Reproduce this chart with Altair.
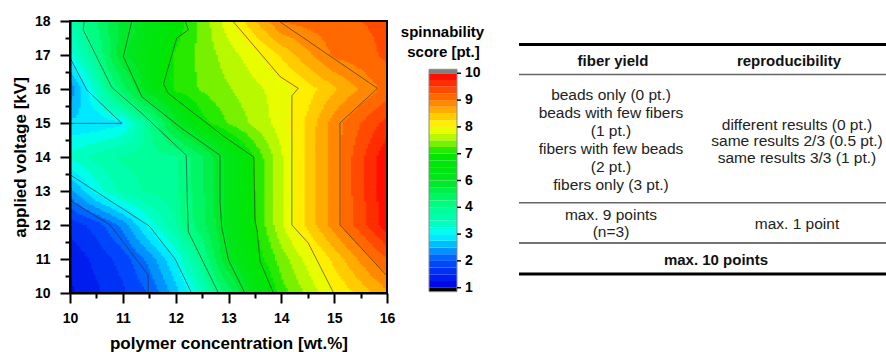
import altair as alt
import pandas as pd

# ---------------- values ----------------
CONC = [10.0, 10.5, 11.0, 11.5, 12.0, 12.5, 13.0, 13.5, 14.0, 14.5, 15.0, 15.5, 16.0]
VOLT = [10, 11, 12, 13, 14, 15, 16, 17, 18]

SCORE_10KV = [1.2, 1.45, 1.7, 2.02, 2.63, 3.39, 4.76, 6.35, 7.13, 7.57, 8.0, 8.35, 8.7]
SCORE_11KV = [1.3, 1.58, 1.86, 2.34, 3.02, 4.04, 6.0, 6.81, 7.37, 7.85, 8.33, 8.81, 9.25]
SCORE_12KV = [1.6, 1.86, 2.34, 3.1, 3.75, 4.83, 6.2, 6.97, 7.71, 8.33, 8.88, 9.39, 9.9]
SCORE_13KV = [2.4, 3.1, 3.6, 3.8, 3.92, 4.9, 6.24, 7.0, 7.71, 8.33, 8.88, 9.43, 9.95]
SCORE_14KV = [3.3, 3.6, 3.8, 3.85, 3.93, 4.94, 6.25, 7.03, 7.72, 8.33, 8.88, 9.43, 9.95]
SCORE_15KV = [2.8, 2.8, 2.95, 3.9, 5.88, 6.89, 7.27, 7.57, 7.88, 8.32, 8.88, 9.25, 9.6]
SCORE_16KV = [2.3, 3.37, 4.74, 6.41, 7.08, 7.28, 7.48, 7.68, 7.88, 8.13, 8.46, 8.79, 9.1]
SCORE_17KV = [3.1, 4.04, 5.92, 6.53, 7.04, 7.34, 7.63, 7.92, 8.29, 8.69, 9.05, 9.15, 9.3]
SCORE_18KV = [3.6, 4.51, 5.62, 6.32, 6.81, 7.34, 7.9, 8.48, 9.02, 9.1, 9.15, 9.25, 9.3]
SCORE_ROWS = [SCORE_10KV, SCORE_11KV, SCORE_12KV, SCORE_13KV, SCORE_14KV,
              SCORE_15KV, SCORE_16KV, SCORE_17KV, SCORE_18KV]

# contour lines (concentration, voltage)
CONTOUR_2 = [(10, 12.72), (10.76, 12.0), (11.48, 10.53), (11.48, 10)]
CONTOUR_3A = [(10, 13.48), (11.5, 11.97), (11.99, 11.0), (12.3, 10)]
CONTOUR_3B = [(10, 16.92), (10.32, 15.97), (10.98, 14.99), (10, 14.99)]
CONTOUR_4 = [(10.27, 18), (10.25, 17.74), (10.79, 16.05), (11.39, 15.24), (12.2, 14.05),
             (12.22, 12.74), (12.24, 11.8), (12.81, 10)]
CONTOUR_6 = [(11.17, 18), (11.01, 16.95), (11.36, 15.77), (12.1, 14.86), (12.84, 14.05),
             (12.84, 12.7), (12.87, 11.95), (13.0, 10.97), (13.31, 10)]
CONTOUR_7 = [(12.18, 18), (12.24, 17.74), (12.02, 17.5), (11.77, 16.15), (11.86, 15.87),
             (12.96, 14.55), (13.48, 14.0), (13.5, 12.15), (13.54, 11.85), (13.6, 10.92), (13.85, 10)]
CONTOUR_8 = [(13.08, 18), (13.98, 16.36), (14.32, 16.02), (14.2, 15.8), (14.2, 12.0),
             (14.51, 11.47), (14.99, 10)]
CONTOUR_9 = [(13.95, 18), (15.82, 16.02), (15.11, 15.0), (15.11, 12.0), (16.0, 10.5)]
CONTOURS = [CONTOUR_2, CONTOUR_3A, CONTOUR_3B, CONTOUR_4, CONTOUR_6, CONTOUR_7, CONTOUR_8, CONTOUR_9]

CB_LEVELS = [1, 2, 3, 4, 6, 7, 8, 9, 10]
CB_LABELS = ["1", "2", "3", "4", "6", "7", "8", "9", "10"]

X_TICKS = [10, 10.5, 11, 11.5, 12, 12.5, 13, 13.5, 14, 14.5, 15, 15.5, 16]
Y_TICKS = [10, 10.5, 11, 11.5, 12, 12.5, 13, 13.5, 14, 14.5, 15, 15.5, 16, 16.5, 17, 17.5, 18]

HEADERS = ["fiber yield", "reproducibility"]
YIELD_LINES = ["beads only (0 pt.)", "beads with few fibers", "(1 pt.)",
               "fibers with few beads", "(2 pt.)", "fibers only (3 pt.)"]
REPRO_LINES = ["different results (0 pt.)", "same results 2/3 (0.5 pt.)", "same results 3/3 (1 pt.)"]
MAX_YIELD = ["max. 9 points", "(n=3)"]
MAX_REPRO = ["max. 1 point"]
TOTAL = ["max. 10 points"]
CB_TITLE = ["spinnability", "score [pt.]"]

# ---------------- style / layout ----------------
FONT = "Liberation Sans"
# colour stops along the colour-bar position (0 = level 1 ... 8 = level 10)
RAINBOW_POS = [0, 1, 2, 2.35, 3, 4, 5, 5.5, 6, 7, 8]
RAINBOW = ["#0000e6", "#0050ff", "#00ffff", "#00ffc3", "#00ff90", "#00e61e",
           "#00e600", "#a0f500", "#ffff00", "#ff7800", "#ff0000"]
W, H = 317, 272
PAD = {"left": 70, "top": 21, "right": 886 - 70 - W, "bottom": 352 - 21 - H}
NX, NY = 150, 160  # render resolution of the filled contour

NCOL, NROW = len(CONC), len(VOLT)
X0, XSTEP = CONC[0], CONC[1] - CONC[0]
Y0, YSTEP = VOLT[0], VOLT[1] - VOLT[0]
DX = (CONC[-1] - CONC[0]) / NX
DY = (VOLT[-1] - VOLT[0]) / NY

grid = pd.DataFrame([{"key": j * NCOL + i, "v": SCORE_ROWS[j][i]}
                     for j in range(NROW) for i in range(NCOL)])


def pos_expr(L):
    n = len(L)
    e = f"{n - 2} + (datum.v - {L[n - 2]}) / {L[n - 1] - L[n - 2]}"
    for s in range(n - 3, -1, -1):
        e = f"datum.v < {L[s + 1]} ? {s} + (datum.v - {L[s]}) / {L[s + 1] - L[s]} : ({e})"
    return e


NPOS = len(CB_LEVELS) - 1
CSCALE = alt.Scale(domain=RAINBOW_POS, range=RAINBOW, interpolate="rgb")
XS = alt.Scale(domain=[CONC[0], CONC[-1]], nice=False, zero=False)
YS = alt.Scale(domain=[VOLT[0], VOLT[-1]], nice=False, zero=False)

axis_common = dict(
    tickWidth=2, tickColor="black", domainColor="black", domainWidth=2,
    labelFont=FONT, labelFontSize=14, labelFontWeight="bold", labelColor="black",
    titleFont=FONT, titleFontSize=17, titleFontWeight="bold", titleColor="black",
    grid=False, labelFlush=False, labelOverlap=False, zindex=1,
    tickSize={"condition": {"test": "datum.value % 1 === 0", "value": 10}, "value": 5},
    labelExpr="datum.value % 1 === 0 ? '' + datum.value : ''",
)
X_AX = alt.Axis(title="polymer concentration [wt.%]", values=X_TICKS,
                labelPadding=8, titlePadding=10, **axis_common)
Y_AX = alt.Axis(title="applied voltage [kV]", values=Y_TICKS,
                labelPadding=10, titlePadding=5, **axis_common)

lk = lambda key, name: dict(lookup=key, from_=alt.LookupData(grid, key="key", fields=["v"]), as_=[name])

heat = (
    alt.Chart(alt.sequence(0, NX * NY, as_="k"))
    .transform_calculate(i=f"datum.k % {NX}")
    .transform_calculate(j=f"floor(datum.k / {NX})")
    .transform_calculate(conc=f"{X0} + datum.i * {DX}")
    .transform_calculate(volt=f"{Y0} + datum.j * {DY}")
    .transform_calculate(conc2=f"datum.conc + {DX * 1.6}")
    .transform_calculate(volt2=f"datum.volt + {DY * 1.6}")
    .transform_calculate(gx=f"(datum.conc + {DX / 2} - {X0}) / {XSTEP}")
    .transform_calculate(gy=f"(datum.volt + {DY / 2} - {Y0}) / {YSTEP}")
    .transform_calculate(ci=f"min(floor(datum.gx), {NCOL - 2})")
    .transform_calculate(cj=f"min(floor(datum.gy), {NROW - 2})")
    .transform_calculate(tx="datum.gx - datum.ci")
    .transform_calculate(ty="datum.gy - datum.cj")
    .transform_calculate(k00=f"datum.cj * {NCOL} + datum.ci")
    .transform_calculate(k10="datum.k00 + 1")
    .transform_calculate(k01=f"datum.k00 + {NCOL}")
    .transform_calculate(k11=f"datum.k00 + {NCOL + 1}")
    .transform_lookup(**lk("k00", "v00"))
    .transform_lookup(**lk("k10", "v10"))
    .transform_lookup(**lk("k01", "v01"))
    .transform_lookup(**lk("k11", "v11"))
    .transform_calculate(v="(1-datum.tx)*(1-datum.ty)*datum.v00 + datum.tx*(1-datum.ty)*datum.v10"
                           " + (1-datum.tx)*datum.ty*datum.v01 + datum.tx*datum.ty*datum.v11")
    .transform_calculate(p=pos_expr(CB_LEVELS))
    .transform_calculate(q=f"clamp((floor(datum.p * 4) + 0.5) / 4, 0, {NPOS})")
    .mark_rect(clip=True, strokeWidth=0)
    .encode(
        x=alt.X("conc:Q", scale=XS, axis=X_AX),
        x2="conc2:Q",
        y=alt.Y("volt:Q", scale=YS, axis=Y_AX),
        y2="volt2:Q",
        color=alt.Color("q:Q", scale=CSCALE, legend=None),
    )
)

cont_df = pd.DataFrame([{"line": n, "o": o, "conc": c, "volt": v}
                        for n, pts in enumerate(CONTOURS) for o, (c, v) in enumerate(pts)])
contours = alt.Chart(cont_df).mark_line(color="#2a2a2a", strokeWidth=1, opacity=0.6, clip=True).encode(
    x=alt.X("conc:Q", scale=XS, axis=X_AX),
    y=alt.Y("volt:Q", scale=YS, axis=Y_AX),
    detail="line:N",
    order="o:Q",
)

frame_df = pd.DataFrame([{"conc": CONC[0], "conc2": CONC[-1], "volt": VOLT[0], "volt2": VOLT[-1]}])
frame = alt.Chart(frame_df).mark_rect(filled=False, stroke="black", strokeWidth=2).encode(
    x=alt.X("conc:Q", scale=XS, axis=X_AX), x2="conc2:Q",
    y=alt.Y("volt:Q", scale=YS, axis=Y_AX), y2="volt2:Q",
)

main = alt.layer(heat, contours, frame)

# ---------------- colour bar ----------------
CB_X0, CB_X1 = 359, 387
CB_Y = alt.Scale(domain=[0, NPOS], range=[266.7, 52.3], nice=False, zero=False)

cb_bands = (
    alt.Chart(alt.sequence(0, NPOS * 4, as_="b"))
    .transform_calculate(p0="datum.b / 4", p1="(datum.b + 1) / 4", pc="(datum.b + 0.5) / 4")
    .mark_rect(strokeWidth=0)
    .encode(
        x=alt.value(CB_X0), x2=alt.value(CB_X1),
        y=alt.Y("p0:Q", scale=CB_Y, axis=None), y2="p1:Q",
        color=alt.Color("pc:Q", scale=CSCALE, legend=None),
    )
)
cb_over = alt.Chart(frame_df).mark_rect(color="#808080").encode(
    x=alt.value(CB_X0), x2=alt.value(CB_X1), y=alt.value(48.3), y2=alt.value(52.3))
cb_under = alt.Chart(frame_df).mark_rect(color="#000000").encode(
    x=alt.value(CB_X0), x2=alt.value(CB_X1), y=alt.value(266.7), y2=alt.value(270.7))
cb_border = alt.Chart(frame_df).mark_rect(filled=False, stroke="#8a8a8a", strokeWidth=1).encode(
    x=alt.value(CB_X0), x2=alt.value(CB_X1), y=alt.value(48.3), y2=alt.value(270.7))

cb_lab_df = pd.DataFrame({"p": list(range(len(CB_LABELS))), "lab": CB_LABELS})
cb_ticks = alt.Chart(cb_lab_df).mark_rule(color="black", strokeWidth=1.5).encode(
    x=alt.value(CB_X1), x2=alt.value(CB_X1 + 4),
    y=alt.Y("p:Q", scale=CB_Y, axis=None))
cb_labels = alt.Chart(cb_lab_df).mark_text(
    font=FONT, fontSize=14, fontWeight="bold", align="left", baseline="middle", color="black"
).encode(x=alt.value(CB_X1 + 8), y=alt.Y("p:Q", scale=CB_Y, axis=None), text="lab:N")

cb_bar = alt.layer(cb_bands, cb_over, cb_under, cb_border, cb_ticks, cb_labels)

cb_title_1 = alt.Chart(frame_df).mark_text(
    font=FONT, fontSize=15, fontWeight="bold", align="center", baseline="middle", color="black",
    text=CB_TITLE[0]).encode(x=alt.value(372.5), y=alt.value(11))
cb_title_2 = alt.Chart(frame_df).mark_text(
    font=FONT, fontSize=15, fontWeight="bold", align="center", baseline="middle", color="black",
    text=CB_TITLE[1]).encode(x=alt.value(373.5), y=alt.value(31))

# ---------------- table ----------------
IDS = alt.Scale(domain=[0, 1000], range=[0, 1000], nice=False, zero=False)
TX0, TX1 = 449, 816
COL_L, COL_R = 541, 727

rules_df = pd.DataFrame({
    "ty": [23.5, 53.5, 181.7, 222, 253],
    "w": [3, 1.5, 1.5, 1.5, 3],
    "c": ["#000000", "#666666", "#666666", "#444444", "#000000"],
})
rules = alt.Chart(rules_df).mark_rule().encode(
    x=alt.value(TX0), x2=alt.value(TX1),
    y=alt.Y("ty:Q", scale=IDS, axis=None),
    strokeWidth=alt.StrokeWidth("w:Q", scale=None, legend=None),
    color=alt.Color("c:N", scale=None, legend=None),
)

regular_rows = []
for t, yy in zip(YIELD_LINES, [74, 92, 110, 128, 146, 164]):
    regular_rows.append({"text": t, "tx": COL_L, "ty": yy})
for t, yy in zip(REPRO_LINES, [103.5, 120, 136.5]):
    regular_rows.append({"text": t, "tx": COL_R, "ty": yy})
for t, yy in zip(MAX_YIELD, [194, 210.7]):
    regular_rows.append({"text": t, "tx": COL_L, "ty": yy})
for t, yy in zip(MAX_REPRO, [203.3]):
    regular_rows.append({"text": t, "tx": COL_R, "ty": yy})

bold_rows = [
    {"text": HEADERS[0], "tx": 543, "ty": 40},
    {"text": HEADERS[1], "tx": 719, "ty": 40},
    {"text": TOTAL[0], "tx": 646, "ty": 239},
]

txt_regular = alt.Chart(pd.DataFrame(regular_rows)).mark_text(
    font=FONT, fontSize=15.5, align="center", baseline="middle", color="#222222"
).encode(x=alt.X("tx:Q", scale=IDS, axis=None), y=alt.Y("ty:Q", scale=IDS, axis=None), text="text:N")
txt_bold = alt.Chart(pd.DataFrame(bold_rows)).mark_text(
    font=FONT, fontSize=15, fontWeight="bold", align="center", baseline="middle", color="#111111"
).encode(x=alt.X("tx:Q", scale=IDS, axis=None), y=alt.Y("ty:Q", scale=IDS, axis=None), text="text:N")

table = alt.layer(rules, txt_regular, txt_bold)

chart = (
    alt.layer(main, cb_bar, cb_title_1, cb_title_2, table)
    .resolve_scale(x="independent", y="independent", color="independent")
    .properties(width=W, height=H, padding=PAD, autosize=alt.AutoSizeParams(type="none"),
                background="white")
    .configure_view(stroke=None)
)

chart.save("out.html", embed_options={"renderer": "svg", "actions": False})
